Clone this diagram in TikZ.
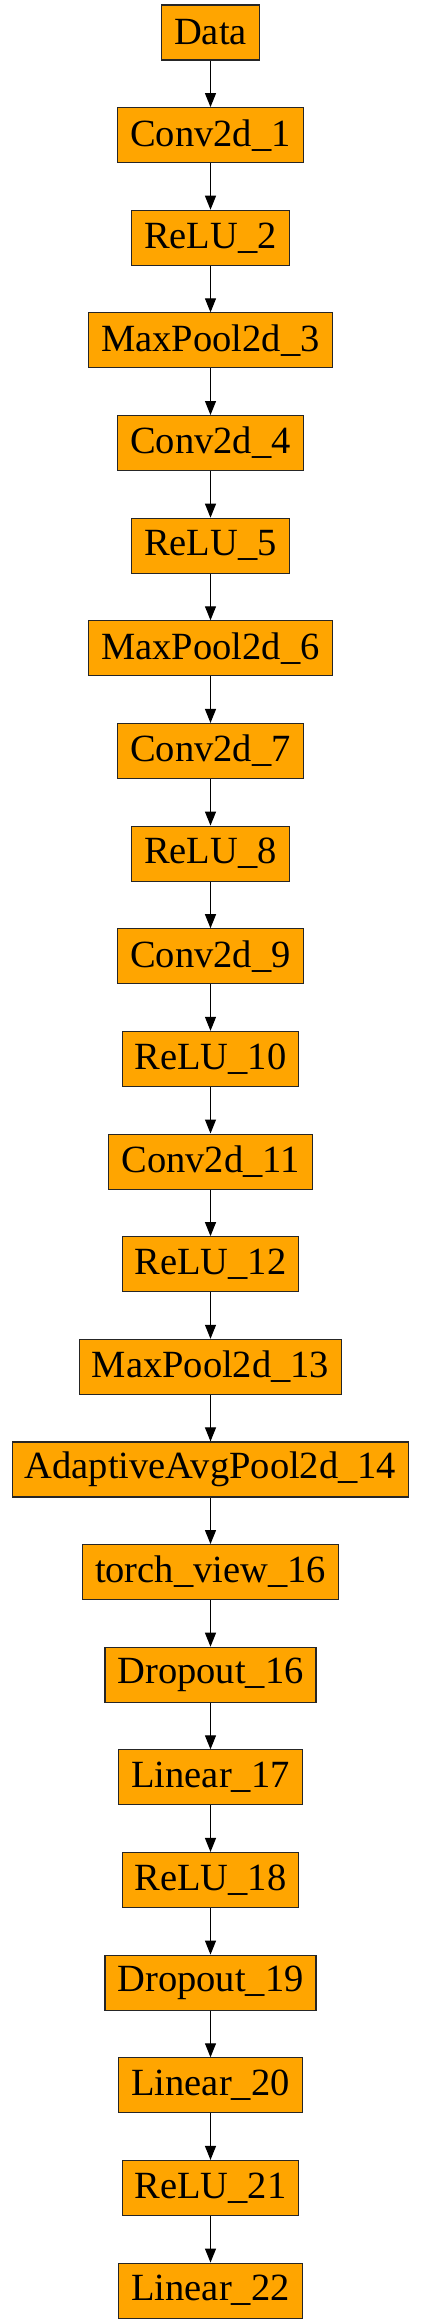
\documentclass[tikz,border=0pt]{standalone}
\usepackage{fontspec}
\setmainfont{Liberation Serif}
\usetikzlibrary{arrows.meta}
\definecolor{boxfill}{HTML}{FFA500}
\begin{document}
\begin{tikzpicture}[x=1pt,y=1pt,
  layer/.style={draw=black!85, line width=1.1pt, fill=boxfill, rectangle,
    minimum height=55pt, inner xsep=12.5pt, inner ysep=0pt,
    font=\fontsize{38.5}{40}\selectfont, text=black},
  link/.style={draw=black, line width=1.1pt, -{Triangle[length=14pt,width=11pt]}}]
\useasboundingbox (0,0) rectangle (421,-2324);
\foreach \t [count=\i from 0] in {Data,Conv2d\_1,ReLU\_2,MaxPool2d\_3,Conv2d\_4,ReLU\_5,MaxPool2d\_6,Conv2d\_7,ReLU\_8,Conv2d\_9,ReLU\_10,Conv2d\_11,ReLU\_12,MaxPool2d\_13,AdaptiveAvgPool2d\_14,torch\_view\_16,Dropout\_16,Linear\_17,ReLU\_18,Dropout\_19,Linear\_20,ReLU\_21,Linear\_22}{
  \node[layer] (n\i) at (210.5,{-32.5-102.64*\i}) {\t};
}
\foreach \i [evaluate=\i as \j using int(\i+1)] in {0,...,21}{
  \draw[link] (n\i) -- (n\j);
}
\end{tikzpicture}
\end{document}
